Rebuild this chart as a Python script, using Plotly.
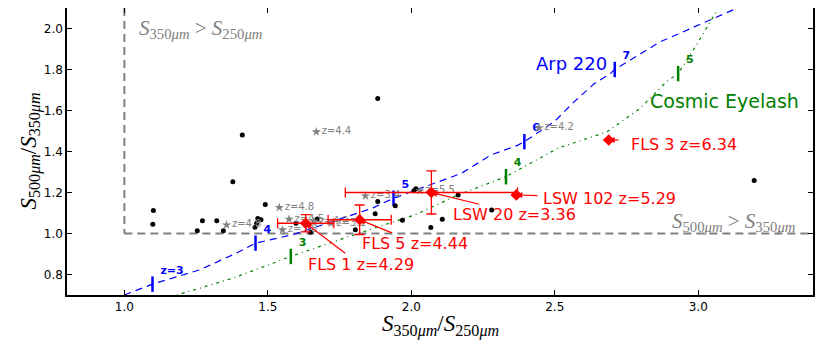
import plotly.graph_objects as go

# black points: other sources
src_x = [1.101, 1.099, 1.378, 1.272, 1.254, 1.322, 1.345, 1.491, 1.465, 1.476, 1.461, 1.455,
         1.598, 1.672, 1.649, 1.805, 1.874, 1.883, 1.944, 1.969, 2.016, 2.009,
         2.163, 2.280, 2.108, 2.068, 1.411, 1.883, 3.195]
src_y = [1.112, 1.045, 1.252, 1.062, 1.013, 1.062, 1.013, 1.141, 1.073, 1.067, 1.050, 1.030,
         1.050, 1.071, 1.006, 1.018, 1.096, 1.156, 1.135, 1.065, 1.218, 1.209,
         1.188, 1.115, 1.070, 1.029, 1.480, 1.658, 1.259]

# grey stars with redshift labels
star_x = [1.669, 2.445, 1.540, 1.356, 1.574, 1.551, 1.660, 1.720, 1.840, 2.030]
star_y = [1.496, 1.516, 1.127, 1.042, 1.070, 1.018, 1.060, 1.050, 1.183, 1.208]
star_lbl = ["z=4.4", "z=4.2", "z=4.8", "z=4.8", "z=4.5", "z=3.8", "z=4.2", "z=3.1", "z=3.4", "z=5.5"]

# red sources with error bars
red_name = ["FLS 1 z=4.29", "FLS 5 z=4.44", "LSW 20 z=3.36", "LSW 102 z=5.29", "FLS 3 z=6.34"]
red_x = [1.632, 1.820, 2.070, 2.366, 2.688]
red_y = [1.050, 1.067, 1.200, 1.188, 1.456]
red_xerr = [0.098, 0.110, 0.300, 0.0, 0.0]
red_yerr = [0.042, 0.072, 0.105, 0.0, 0.0]

# Arp 220 track
arp_x = [1.000, 1.098, 1.263, 1.378, 1.457, 1.586, 1.724, 1.863, 1.938, 2.070, 2.174, 2.278,
         2.370, 2.394, 2.498, 2.567, 2.637, 2.692, 2.709, 2.866, 2.970, 3.130]
arp_y = [0.700, 0.753, 0.823, 0.896, 0.953, 0.994, 1.058, 1.123, 1.172, 1.240, 1.293, 1.383,
         1.430, 1.448, 1.545, 1.642, 1.730, 1.778, 1.800, 1.934, 1.999, 2.096]
arp_z_x = [1.098, 1.457, 1.938, 2.394, 2.709]
arp_z_y = [0.753, 0.953, 1.172, 1.448, 1.800]
arp_z_lbl = ["z=3", "4", "5", "6", "7"]

# Cosmic Eyelash track
eye_x = [1.183, 1.378, 1.580, 1.782, 2.013, 2.163, 2.330, 2.509, 2.682, 2.797, 2.889, 2.930, 2.993, 3.062]
eye_y = [0.700, 0.782, 0.888, 0.985, 1.091, 1.188, 1.277, 1.415, 1.496, 1.610, 1.740, 1.780, 1.918, 2.080]
eye_z_x = [1.580, 2.330, 2.930]
eye_z_y = [0.888, 1.277, 1.780]
eye_z_lbl = ["3", "4", "5"]

fig = go.Figure()

# region boundaries
fig.add_trace(go.Scatter(x=[1.0, 1.0], y=[2.1, 1.0], mode='lines',
                         line=dict(color='#808080', width=2, dash='8px,5px'), hoverinfo='skip'))
fig.add_trace(go.Scatter(x=[1.0, 3.4], y=[1.0, 1.0], mode='lines',
                         line=dict(color='#808080', width=2, dash='8px,5px'), hoverinfo='skip'))

fig.add_trace(go.Scatter(x=arp_x, y=arp_y, mode='lines',
                         line=dict(color='blue', width=1.2, dash='7px,5px')))
fig.add_trace(go.Scatter(x=eye_x, y=eye_y, mode='lines',
                         line=dict(color='green', width=1.2, dash='1px,4px,3px,4px')))

fig.add_trace(go.Scatter(x=arp_z_x, y=arp_z_y, mode='markers+text', text=arp_z_lbl,
                         textposition='top right',
                         textfont=dict(color='blue', size=11, family='DejaVu Sans', weight='bold'),
                         marker=dict(symbol='line-ns', size=11, line=dict(color='blue', width=2.5))))
fig.add_trace(go.Scatter(x=eye_z_x, y=eye_z_y, mode='markers+text', text=eye_z_lbl,
                         textposition='top right',
                         textfont=dict(color='green', size=11, family='DejaVu Sans', weight='bold'),
                         marker=dict(symbol='line-ns', size=11, line=dict(color='green', width=2.5))))

fig.add_trace(go.Scatter(x=src_x, y=src_y, mode='markers',
                         marker=dict(color='black', size=5)))

fig.add_trace(go.Scatter(x=star_x, y=star_y, mode='markers+text', text=star_lbl,
                         textposition='middle right',
                         textfont=dict(color='#808080', size=10, family='DejaVu Sans'),
                         marker=dict(symbol='star', color='#808080', size=7)))

fig.add_trace(go.Scatter(x=red_x, y=red_y, mode='markers',
                         marker=dict(symbol='diamond', color='red', size=9),
                         error_x=dict(type='data', array=red_xerr, color='red', thickness=1.3, width=5),
                         error_y=dict(type='data', array=red_yerr, color='red', thickness=1.3, width=5)))

# labels with arrows
tails = [(1.775, 0.898), (1.938, 1.000), (2.242, 1.141), (2.445, 1.185), (2.727, 1.457)]
text_pos = [(1.632, 0.849), (1.822, 0.953), (2.138, 1.091), (2.451, 1.169), (2.757, 1.435)]
for i, name in enumerate(red_name):
    fig.add_annotation(x=red_x[i], y=red_y[i], ax=tails[i][0], ay=tails[i][1],
                       axref='x', ayref='y', text='', showarrow=True,
                       arrowhead=2, arrowsize=1, arrowwidth=1.2, arrowcolor='red')
    fig.add_annotation(x=text_pos[i][0], y=text_pos[i][1], text=name, showarrow=False,
                       xanchor='left', yanchor='middle',
                       font=dict(color='red', size=16, family='DejaVu Sans'))

fig.add_annotation(x=2.426, y=1.829, text='Arp 220', showarrow=False, xanchor='left',
                   yanchor='middle', font=dict(color='blue', size=18, family='DejaVu Sans'))
fig.add_annotation(x=2.826, y=1.646, text='Cosmic Eyelash', showarrow=False, xanchor='left',
                   yanchor='middle', font=dict(color='green', size=19, family='DejaVu Sans'))

fig.add_annotation(x=1.045, y=2.0, xanchor='left', yanchor='middle', showarrow=False,
                   text='<i>S</i><sub>350<i>μm</i></sub> &gt; <i>S</i><sub>250<i>μm</i></sub>',
                   font=dict(color='#808080', size=21, family='Liberation Serif'))
fig.add_annotation(x=3.345, y=1.058, xanchor='right', yanchor='middle', showarrow=False,
                   text='<i>S</i><sub>500<i>μm</i></sub> &gt; <i>S</i><sub>350<i>μm</i></sub>',
                   font=dict(color='#808080', size=21, family='Liberation Serif'))

# axis titles as paper annotations
fig.add_annotation(xref='paper', yref='paper', x=0.5, y=0, yshift=-30, showarrow=False,
                   xanchor='center', yanchor='middle',
                   text='<i>S</i><sub>350<i>μm</i></sub>/<i>S</i><sub>250<i>μm</i></sub>',
                   font=dict(family='Liberation Serif', size=23, color='black'))
fig.add_annotation(xref='paper', yref='paper', x=0, y=0.5, xshift=-37, showarrow=False,
                   xanchor='center', yanchor='middle', textangle=-90,
                   text='<i>S</i><sub>500<i>μm</i></sub>/<i>S</i><sub>350<i>μm</i></sub>',
                   font=dict(family='Liberation Serif', size=23, color='black'))

axis_style = dict(showgrid=False, zeroline=False, showline=True, linecolor='black', linewidth=1.5,
                  mirror='ticks', ticks='inside', ticklen=5, tickcolor='black', tickformat='.1f',
                  automargin=False,
                  tickfont=dict(family='DejaVu Sans', size=12, color='black'))

fig.update_xaxes(range=[0.8, 3.4], dtick=0.5, tick0=1.0, **axis_style)
fig.update_yaxes(range=[0.7, 2.1], dtick=0.2, tick0=0.8, **axis_style)

fig.update_layout(width=830, height=346, showlegend=False,
                  margin=dict(l=59, r=25, t=0, b=59),
                  paper_bgcolor='white', plot_bgcolor='white')

fig.write_html("out.html")
